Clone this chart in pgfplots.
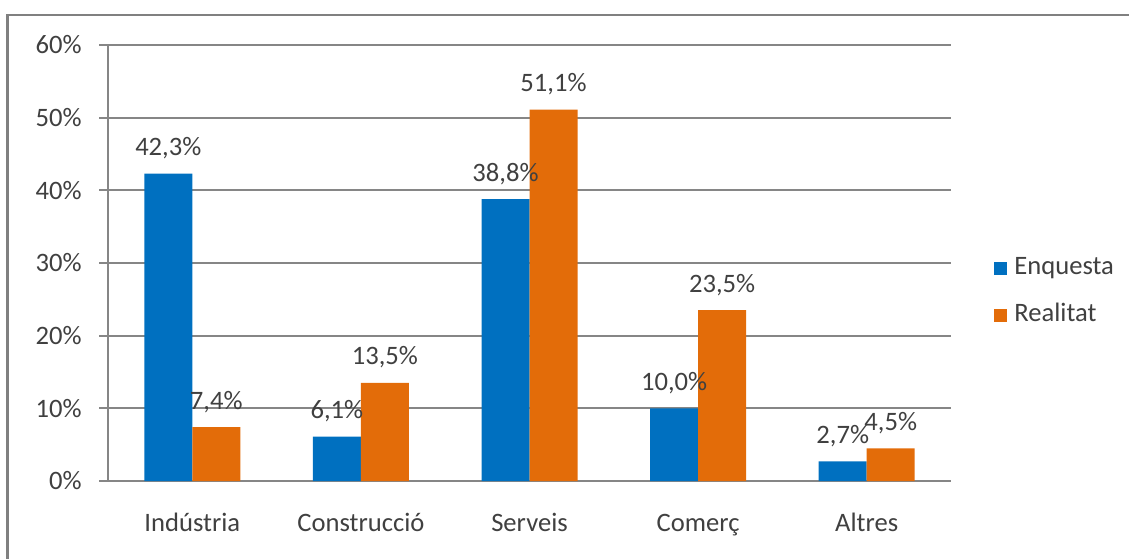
\documentclass[border=0pt]{standalone}
\usepackage{fontspec}
\setmainfont{Carlito}
\usepackage{pgfplots}
\pgfplotsset{compat=1.18}

\definecolor{enq}{RGB}{0,112,192}
\definecolor{real}{RGB}{227,108,9}
\definecolor{txt}{RGB}{64,64,64}
\definecolor{gridc}{RGB}{134,134,134}
\definecolor{framec}{RGB}{128,128,128}

\begin{document}
\begin{tikzpicture}[x=1bp,y=1bp]
\useasboundingbox (0,0) rectangle (564.5,279);
\draw[framec, line width=1.3bp] (3.7,-5) -- (3.7,271.5) -- (570,271.5);
\begin{axis}[
  at={(54bp,38.5bp)}, anchor=south west,
  scale only axis,
  width=421.5bp, height=218bp,
  font=\fontsize{13.3bp}{16bp}\selectfont,
  /pgf/number format/assume math mode=true,
  ybar=0pt, bar width=24bp,
  xmin=-0.5, xmax=4.5,
  ymin=0, ymax=60,
  ytick={0,10,...,60},
  yticklabel={\pgfmathprintnumber{\tick}\%},
  xtick={0,1,2,3,4},
  xticklabels={Indústria,Construcció,Serveis,Comerç,Altres},
  major x tick style={draw=none},
  extra x ticks={-0.5,0.5,1.5,2.5,3.5,4.5},
  extra x tick labels={},
  extra x tick style={major tick length=4.5bp, tick style={gridc, line width=1bp}, grid=none},
  axis x line*=bottom, axis y line*=left,
  axis line style={gridc, line width=1bp, -},
  tick align=outside,
  major tick length=4.5bp,
  tick style={gridc, line width=1bp},
  ymajorgrids, grid style={gridc, line width=1bp},
  tick label style={text=txt},
  yticklabel style={anchor=east, inner sep=0pt, xshift=-8.5bp},
  xticklabel style={anchor=base, inner sep=0pt, yshift=-20.5bp},
  nodes near coords={\pgfmathprintnumber[fixed,fixed zerofill,precision=1,use comma]{\pgfplotspointmeta}\%},
  nodes near coords style={anchor=base, inner sep=0pt, yshift=9bp, text=txt},
  legend style={at={(rel axis cs:1.051,0.4346)}, anchor=west, draw=none, fill=none,
    inner sep=0pt, row sep=11.5bp, column sep=0pt,
    nodes={inner sep=0pt, text height=9bp, text depth=3bp, text=txt}},
  legend cell align=left,
  legend image code/.code={\fill[#1] (0bp,-3.25bp) rectangle (6.5bp,3.25bp);},
]
\addplot[fill=enq, draw=none] coordinates {(0,42.3) (1,6.1) (2,38.8) (3,10.0) (4,2.7)};
\addplot[fill=real, draw=none] coordinates {(0,7.4) (1,13.5) (2,51.1) (3,23.5) (4,4.5)};
\legend{\hspace{3.5bp}Enquesta,\hspace{3.5bp}Realitat}
\end{axis}
\end{tikzpicture}
\end{document}
